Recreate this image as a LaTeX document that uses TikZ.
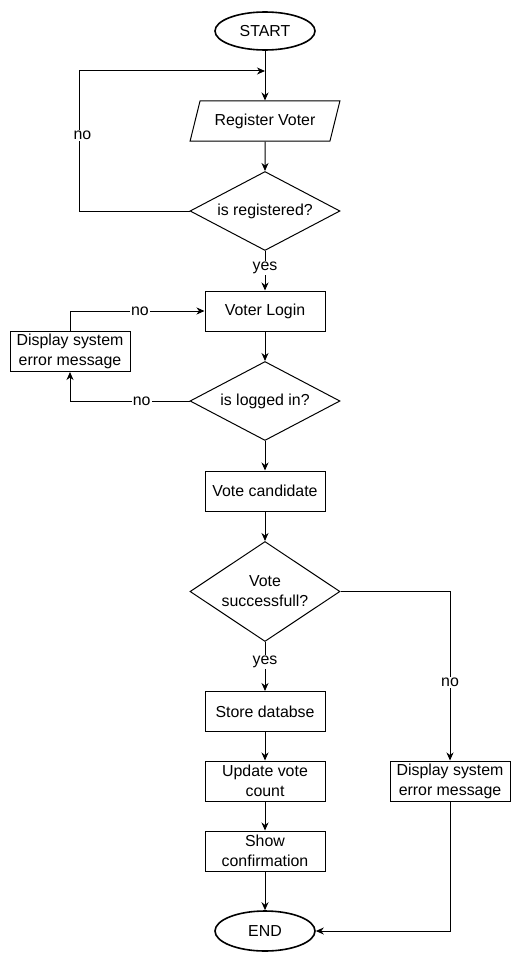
\documentclass[tikz,border=0pt]{standalone}
\usepackage{fontspec}
\setmainfont{Liberation Sans}
\usepackage{tikz}
\usetikzlibrary{arrows.meta,shapes.geometric}
\definecolor{ink}{HTML}{000000}
\tikzset{
  box/.style={draw=ink, line width=1pt, fill=white, align=center, inner sep=2pt, minimum width=120pt, minimum height=40pt, font=\fontsize{15.9}{20}\selectfont},
  term/.style={box, ellipse, line width=1.6pt, minimum width=100pt, minimum height=38pt},
  io/.style={box, trapezium, trapezium left angle=67, trapezium right angle=113, trapezium stretches=true, minimum width=150pt},
  cond/.style={box, diamond, aspect=1.9, inner sep=0pt, minimum width=150pt, minimum height=79pt},
  arr/.style={-{Stealth[length=8pt,width=7pt,inset=2.5pt]}, line width=1pt, ink},
  lbl/.style={fill=white, inner sep=1pt, font=\fontsize{15.9}{20}\selectfont},
}
\begin{document}
\begin{tikzpicture}[x=1pt,y=-1pt]
  \useasboundingbox (0,0) rectangle (522,963);
  % main column
  \node[term] at (265,31) (start) {START};
  \coordinate (j1) at (265,71);
  \node[io] at (265,121) (reg) {Register Voter};
  \node[cond] at (265,211) (isreg) {is registered?};
  \node[box] at (265,311) (login) {Voter Login};
  \node[box] at (70,351.5) (err1) {Display system\\error message};
  \node[cond] at (265,401) (islog) {is logged in?};
  \node[box] at (265,491) (vote) {Vote candidate};
  \node[cond, aspect=1.5, minimum height=100pt] at (265,591.5) (ok) {Vote\\successfull?};
  \node[box] at (265,711.5) (store) {Store databse};
  \node[box] at (265,781) (count) {Update vote\\count};
  \node[box] at (265,851) (confirm) {Show\\confirmation};
  \node[term, minimum height=40pt] at (265,931) (end) {END};
  \node[box] at (450,781) (err2) {Display system\\error message};

  \draw[arr] (start) -- (reg);
  \draw[arr] (isreg.west) -- ++(-110,0) |- node[lbl, pos=0.27, xshift=3pt] {no} (j1);
  \draw[arr] (reg) -- (isreg);
  \draw[arr] (isreg) -- node[lbl, pos=0.42] {yes} (login);
  \draw[arr] (login) -- (islog);
  \draw[arr] (islog.west) -| node[lbl, pos=0.2] {no} (err1.south);
  \draw[arr] (err1.north) |- node[lbl, pos=0.76] {no} (login.west);
  \draw[arr] (islog) -- (vote);
  \draw[arr] (vote) -- (ok);
  \draw[arr] (ok) -- node[lbl, pos=0.41] {yes} (store);
  \draw[arr] (ok.east) -| node[lbl, pos=0.77] {no} (err2.north);
  \draw[arr] (store) -- (count);
  \draw[arr] (count) -- (confirm);
  \draw[arr] (confirm) -- (end);
  \draw[arr] (err2.south) |- (end.east);
\end{tikzpicture}
\end{document}
